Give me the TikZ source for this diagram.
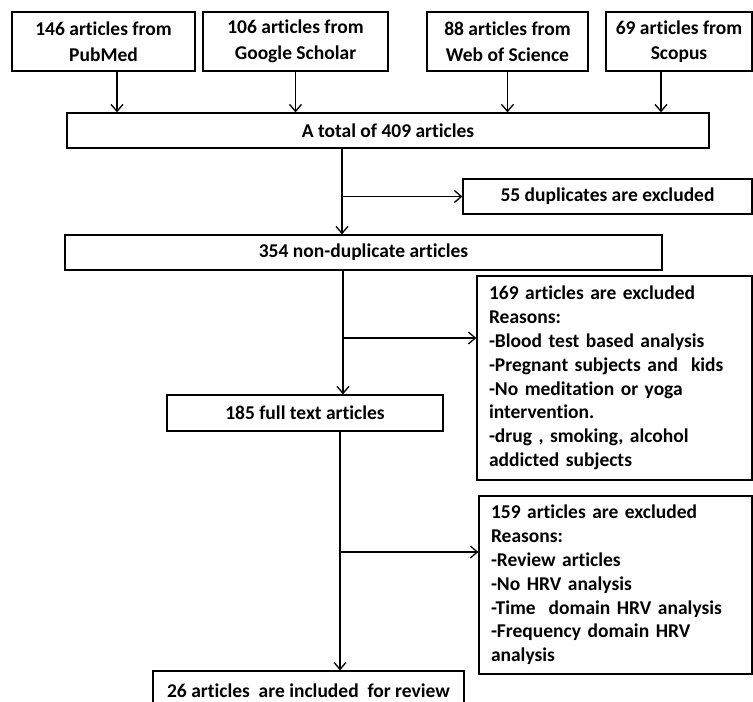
\documentclass[tikz,border=0pt]{standalone}
\usepackage{fontspec}
\setmainfont{Carlito}[Ligatures=NoCommon]
\usetikzlibrary{arrows.meta}
\begin{document}
\begin{tikzpicture}[x=1pt,y=-1pt,
 box/.style={draw, line width=1.3pt, inner sep=0pt, align=center, font=\fontsize{19.5}{25.5}\selectfont\bfseries},
 exbox/.style={draw, line width=1.3pt, inner xsep=12pt, inner ysep=0pt, align=left, font=\fontsize{19.5}{23.8}\selectfont\bfseries},
 arr/.style={line width=1.3pt, -{Straight Barb[length=7pt,width=12pt,line width=1.3pt]}}]
\useasboundingbox (0,0) rectangle (753,702);
\clip (0,0) rectangle (753,702);
\node[box, minimum width=183, minimum height=59] (s1) at (103.5,41.5) {146 articles from\\PubMed};
\node[box, minimum width=185, minimum height=59] (s2) at (295.5,41.5) {106 articles from\\Google Scholar};
\node[box, minimum width=161, minimum height=59] (s3) at (507.5,41.5) {88 articles from\\Web of Science};
\node[box, minimum width=146, minimum height=59] (s4) at (679,41.5) {69 articles from\\Scopus};
\node[box, minimum width=642, minimum height=35] (tot) at (388,130.5) {A total of 409 articles};
\node[box, minimum width=289, minimum height=35] (dup) at (607.5,196.5) {55 duplicates are excluded};
\node[box, minimum width=597, minimum height=35] (nd) at (363.5,252.5) {354 non-duplicate articles};
\node[exbox, text width=251, minimum height=204] (ex1) at (614.5,378) {169 articles are excluded\\Reasons:\\-Blood test based analysis\\-Pregnant subjects and\ \ kids\\-No meditation or yoga\\intervention.\\-drug , smoking, alcohol\\addicted subjects};
\node[box, minimum width=276, minimum height=36] (ft) at (305,413) {185 full text articles};
\node[exbox, text width=249, minimum height=178] (ex2) at (615.5,585) {159 articles are excluded\\Reasons:\\-Review articles\\-No HRV analysis\\-Time\ \ domain HRV analysis\\-Frequency domain HRV\\analysis};
\node[box, minimum width=311, minimum height=40] (inc) at (308.5,691) {26 articles\ \ are included\ \ for review};
\draw[arr] ([xshift=13.5pt]s1.south) -- ([xshift=13.5pt]s1.south |- tot.north);
\draw[arr] (s2.south) -- (s2.south |- tot.north);
\draw[arr] (s3.south) -- (s3.south |- tot.north);
\draw[arr] ([xshift=-18pt]s4.south) -- ([xshift=-18pt]s4.south |- tot.north);
\coordinate (a) at ([xshift=-46pt]tot.south);
\draw[arr] (a) -- (a |- nd.north);
\draw[arr] (a |- dup.west) -- (dup.west);
\coordinate (b) at ([xshift=-20.5pt]nd.south);
\coordinate (b2) at ([yshift=40pt]ex1.west);
\draw[arr] (b) -- (b |- ft.north);
\draw[arr] (b |- b2) -- (b2);
\coordinate (c) at ([xshift=35pt]ft.south);
\coordinate (c2) at ([yshift=33pt]ex2.west);
\draw[arr] (c) -- (c |- inc.north);
\draw[arr] (c |- c2) -- (c2);
\end{tikzpicture}
\end{document}
